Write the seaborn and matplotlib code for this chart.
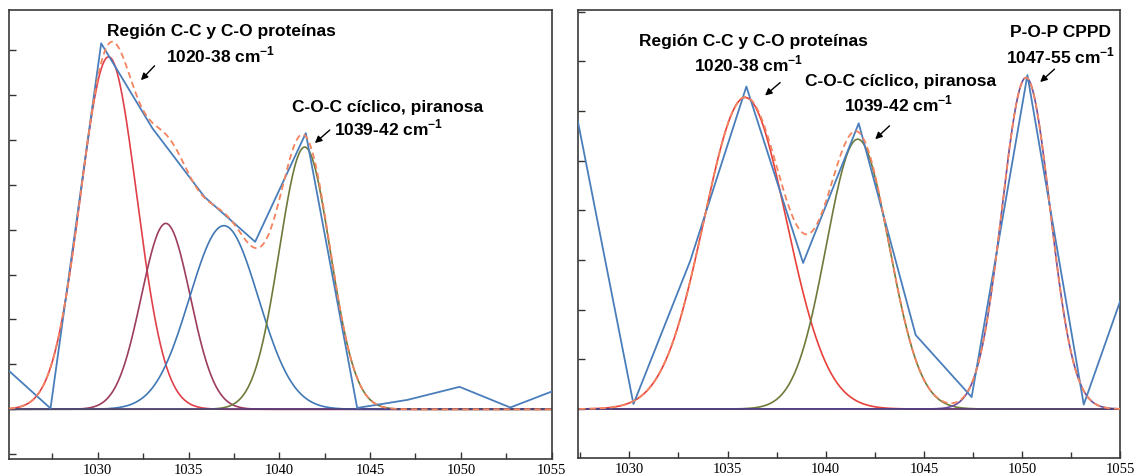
import numpy as np
import pandas as pd
import matplotlib
matplotlib.use("Agg")
import matplotlib.pyplot as plt
import seaborn as sns
from matplotlib.ticker import MultipleLocator

# ---- measured spectra (wavenumber in cm-1, intensity in arbitrary units) ----
left_wavenumber = [1024.58, 1027.40, 1030.19, 1033.01, 1035.88, 1038.67,
                   1041.46, 1044.29, 1047.06, 1049.93, 1052.72, 1055.55]
left_signal = [1.05, 0.02, 8.15, 6.26, 4.73, 3.73, 6.15, 0.03, 0.21, 0.50, 0.04, 0.48]

right_wavenumber = [1027.35, 1030.21, 1033.10, 1035.96, 1038.85, 1041.68,
                    1044.58, 1047.43, 1050.27, 1053.14, 1056.00]
right_signal = [5.85, 0.10, 2.98, 6.49, 2.94, 5.75, 1.49, 0.24, 6.72, 0.09, 3.30]

# ---- fitted Gaussian bands: centre, height, sigma ----
left_centers = [1030.6, 1033.75, 1036.95, 1041.4]
left_heights = [7.85, 4.14, 4.09, 5.84]
left_sigmas = [1.55, 1.35, 1.9, 1.4]
left_colors = ["#E0404A", "#9C3D5E", "#3F78B5", "#6E7A3A"]

right_centers = [1035.9, 1041.63, 1050.2]
right_heights = [6.27, 5.43, 6.67]
right_sigmas = [2.1, 1.6, 1.22]
right_colors = ["#E8403A", "#6E7A3A", "#6B4E9E"]

left_xlim = (1025.13, 1055.0)
right_xlim = (1027.4, 1055.0)
left_ylim = (-1.107, 8.893)
right_ylim = (-0.992, 8.03)

x_ticks = [1030, 1035, 1040, 1045, 1050, 1055]

# ---- band assignments ----
left_notes = [
    ("Región C-C y C-O proteínas", "1020-38", (1036.84, 8.43), (1036.78, 7.91),
     (1033.13, 7.65), (1032.38, 7.33)),
    ("C-O-C cíclico, piranosa", "1039-42", (1045.96, 6.75), (1046.0, 6.29),
     (1042.78, 6.22), (1041.96, 5.93)),
]
right_notes = [
    ("Región C-C y C-O proteínas", "1020-38", (1036.3, 7.42), (1036.1, 6.96),
     (1037.68, 6.57), (1036.91, 6.31)),
    ("C-O-C cíclico, piranosa", "1039-42", (1043.8, 6.62), (1043.7, 6.16),
     (1043.25, 5.70), (1042.52, 5.43)),
    ("P-O-P CPPD", "1047-55", (1051.98, 7.59), (1051.98, 7.12),
     (1051.65, 6.84), (1050.92, 6.58)),
]

RAW_COLOR = "#4A7EBB"
FIT_COLOR = "#F4845F"
BASE_COLOR = "#4A3B7C"

sns.set_style("white")
plt.rcParams["mathtext.fontset"] = "custom"
plt.rcParams["mathtext.rm"] = "Liberation Sans"
plt.rcParams["mathtext.bf"] = "Liberation Sans:bold"


def gaussian(x, c, h, s):
    return h * np.exp(-0.5 * ((x - c) / s) ** 2)


def draw_panel(ax, wn, sig, centers, heights, sigmas, colors, xlim, ylim, notes):
    grid = np.linspace(xlim[0] - 1, xlim[1] + 1, 800)
    total = np.zeros_like(grid)
    for c, h, s, col in zip(centers, heights, sigmas, colors):
        band = gaussian(grid, c, h, s)
        total += band
        sns.lineplot(x=grid, y=band, ax=ax, color=col, lw=1.2,
                     estimator=None, sort=False, zorder=2)
    ax.axhline(0, color=BASE_COLOR, lw=1.1, zorder=2.5)
    raw = pd.DataFrame({"wn": wn, "sig": sig})
    sns.lineplot(data=raw, x="wn", y="sig", ax=ax, color=RAW_COLOR, lw=1.3,
                 estimator=None, sort=False, zorder=3)
    sns.lineplot(x=grid, y=total, ax=ax, color=FIT_COLOR, lw=1.3,
                 linestyle=(0, (3.5, 2.2)), estimator=None, sort=False, zorder=4)

    ax.set_xlim(*xlim)
    ax.set_ylim(*ylim)
    ax.set_xticks(x_ticks)
    ax.xaxis.set_minor_locator(MultipleLocator(2.5))
    ax.yaxis.set_major_locator(MultipleLocator(1))
    ax.set_xlabel("")
    ax.set_ylabel("")
    ax.tick_params(axis="x", which="major", direction="in", length=5, width=1,
                   color="#333333", bottom=True, top=False, pad=3,
                   labelsize=10.5, labelcolor="black")
    ax.tick_params(axis="x", which="minor", direction="in", length=4, width=1,
                   color="#333333", bottom=True, top=False)
    ax.tick_params(axis="y", which="major", direction="in", length=5, width=1,
                   color="#333333", left=True, right=False, labelleft=False)
    for lab in ax.get_xticklabels():
        lab.set_fontfamily("Liberation Serif")
    for sp in ax.spines.values():
        sp.set_visible(True)
        sp.set_color("#3a3a3a")
        sp.set_linewidth(1.2)

    for title, rng, pos1, pos2, tail, head in notes:
        ax.text(*pos1, title, ha="center", va="center", fontsize=12.5,
                fontweight="bold", family="Liberation Sans", color="black",
                zorder=6)
        ax.text(*pos2, rng + r" cm$^{\mathbf{-1}}$", ha="center", va="center",
                fontsize=12.5, fontweight="bold", family="Liberation Sans",
                color="black", zorder=6)
        ax.annotate("", xy=head, xytext=tail,
                    arrowprops=dict(arrowstyle="-|>", color="black", lw=1.0,
                                    mutation_scale=10, shrinkA=0, shrinkB=0),
                    zorder=6)


fig = plt.figure(figsize=(11.37, 4.77), dpi=100)
ax_l = fig.add_axes([0.00818, 0.03564, 0.4770, 0.9413])
ax_r = fig.add_axes([0.5086, 0.0371, 0.4767, 0.9398])

draw_panel(ax_l, left_wavenumber, left_signal, left_centers, left_heights,
           left_sigmas, left_colors, left_xlim, left_ylim, left_notes)
draw_panel(ax_r, right_wavenumber, right_signal, right_centers, right_heights,
           right_sigmas, right_colors, right_xlim, right_ylim, right_notes)

fig.savefig("out.png", dpi=100)
